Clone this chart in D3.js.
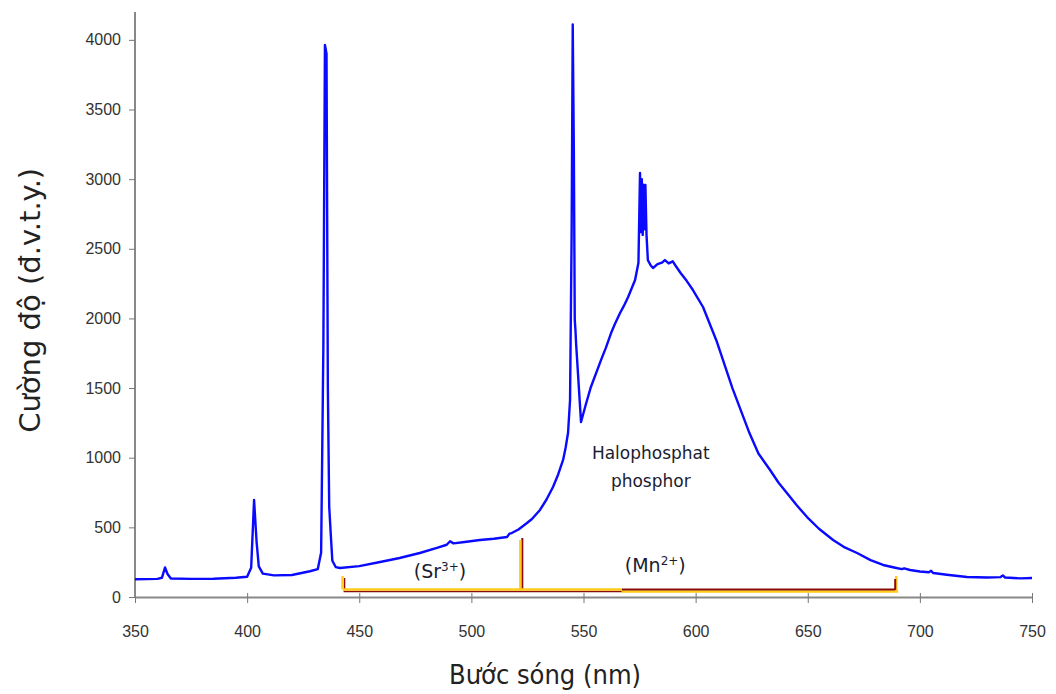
<!DOCTYPE html>
<html>
<head>
<meta charset="utf-8">
<script src="https://cdn.jsdelivr.net/npm/d3@7"></script>
<style>
  body { margin: 0; background: #fff; }
  svg { display: block; }
  .tick text { font-family: "Liberation Sans", Arial, sans-serif; font-size: 16px; fill: #333; }
</style>
</head>
<body>
<svg id="chart" width="1056" height="694"></svg>
<script>
// spectrum: wavelength (nm) and intensity (a.u.)
var wavelengths = [350, 355, 360, 362, 363.4, 364.5, 366, 375, 385, 395, 400, 401.8, 403.1, 404.2, 405.2, 407, 412, 420, 428, 431.5,
    433, 434, 434.7, 435.4, 436, 436.6, 437.3, 438, 439.5, 441.4, 450, 459.3, 468, 477, 485, 489, 490.5, 492, 497, 503.8,
    510, 515.9, 517, 518, 521, 524.8, 527, 530.6, 533.5, 536.4, 538.7, 540.9, 542, 543.1, 544, 544.7, 545.2, 545.7, 546.1, 546.4,
    546.7, 548.9, 551, 553.3, 557.8, 560, 562.3, 564, 566.3, 568, 569.9, 573, 574.5, 575.2, 575.6, 576.0, 576.4, 576.8, 577.2, 577.6,
    578.1, 578.7, 580, 581, 583, 585, 586.3, 588, 589.8, 591, 593.3, 596, 598.8, 603.3, 609.3, 616.4, 624, 628,
    633.2, 637, 640.7, 645, 649.7, 655, 661.3, 666, 672, 678, 683.6, 689, 692, 693, 695.6, 700, 704, 705, 706, 712,
    721, 730, 736, 737, 738, 745, 750];
var intensity = [127, 128, 130, 138, 212, 165, 133, 130, 131, 138, 145, 210, 696, 400, 220, 168, 155, 158, 185, 200,
    320, 1800, 3963, 3900, 1500, 650, 450, 260, 215, 208, 222, 251, 280, 316, 355, 375, 400, 385, 395, 409,
    418, 431, 455, 459, 485, 531, 560, 625, 700, 790, 880, 984, 1070, 1177, 1414, 2600, 4110, 3200, 1990, 1920,
    1820, 1256, 1380, 1508, 1701, 1790, 1895, 1960, 2039, 2090, 2154, 2276, 2400, 3044, 2620, 3000, 2600, 2960, 2640, 2958,
    2600, 2419, 2380, 2362, 2390, 2400, 2419, 2395, 2410, 2380, 2326, 2270, 2204, 2082, 1840, 1500, 1177, 1030,
    912, 820, 747, 660, 574, 490, 409, 360, 316, 265, 230, 210, 200, 206, 194, 183, 178, 188, 172, 160,
    144, 140, 143, 155, 140, 134, 136];

var xTicks = [350, 400, 450, 500, 550, 600, 650, 700, 750];
var yTicks = [0, 500, 1000, 1500, 2000, 2500, 3000, 3500, 4000];

// bands under the curve (nm): Sr start, Mn start, colour change, Mn end
var bandEdges = [443, 522.5, 567, 689];
var bandLabels = [
    { base: "Sr", sup: "3+", nm: 486, v: 140 },
    { base: "Mn", sup: "2+", nm: 582, v: 178 }
];
var phosphorLines = ["Halophosphat", "phosphor"];

var svg = d3.select('#chart');

var x = d3.scaleLinear().domain([350, 750]).range([135, 1032]);
var y = d3.scaleLinear().domain([0, 4200]).range([597, 12]);

// axes
var xAxis = d3.axisBottom(x).tickValues(xTicks).tickFormat(d3.format('d'))
    .tickSizeInner(6).tickSizeOuter(0).tickPadding(23);
var yAxis = d3.axisLeft(y).tickValues(yTicks).tickFormat(d3.format('d'))
    .tickSizeInner(6).tickSizeOuter(0).tickPadding(8);

var gx = svg.append('g')
    .attr('transform', `translate(0 ${y(0)})`)
    .call(xAxis);
gx.select('.domain').attr('stroke', '#888').attr('stroke-width', 2);
gx.selectAll('.tick line').attr('stroke', '#777').attr('y1', -4);

var gy = svg.append('g')
    .attr('transform', `translate(${x(350)} 0)`)
    .call(yAxis);
gy.select('.domain').attr('stroke', '#888').attr('stroke-width', 2)
    .attr('d', `M0,${y(4200)}V${y(0)}`);
gy.selectAll('.tick line').attr('stroke', '#777');

// band brackets
var yb = y(0) - 7;
var e = bandEdges.map(x);
var yellow = '#ffcc1a', darkRed = '#8b0a0a';
// right part: yellow shadow under a dark red line
svg.append('path')
    .attr('d', `M${e[2]},${yb + 1.5}H${e[3] + 3}M${e[3] + 1},${yb - 14}V${yb}`)
    .attr('stroke', yellow).attr('stroke-width', 2.5).attr('fill', 'none');
svg.append('path')
    .attr('d', `M${e[2]},${yb - 0.5}H${e[3]}M${e[3]},${yb - 11}V${yb}M${e[1] + 0.5},${yb - 52}V${yb}`)
    .attr('stroke', darkRed).attr('stroke-width', 2).attr('fill', 'none');
// left part: thin dark red under a yellow line
svg.append('path')
    .attr('d', `M${e[0]},${yb + 1.5}H${e[2]}M${e[0] + 1},${yb - 12}V${yb}`)
    .attr('stroke', darkRed).attr('stroke-width', 1.5).attr('fill', 'none');
svg.append('path')
    .attr('d', `M${e[0] - 1},${yb - 0.5}H${e[2]}M${e[0] - 1},${yb - 14}V${yb - 1}M${e[1] - 1.5},${yb - 50}V${yb - 1}`)
    .attr('stroke', yellow).attr('stroke-width', 2.5).attr('fill', 'none');

// spectrum
var pts = wavelengths.map((w, i) => [w, intensity[i]]);
svg.append('path')
    .datum(pts)
    .attr('d', d3.line().x(d => x(d[0])).y(d => y(d[1])))
    .attr('fill', 'none')
    .attr('stroke', '#0a0aff')
    .attr('stroke-width', 2.4)
    .attr('stroke-linejoin', 'round');

// annotations
var lab = svg.selectAll('.band-label')
    .data(bandLabels)
    .enter().append('text')
    .attr('class', 'band-label')
    .attr('x', d => x(d.nm))
    .attr('y', d => y(d.v))
    .attr('text-anchor', 'middle')
    .attr('font-family', '"DejaVu Sans", Tahoma, sans-serif')
    .attr('font-size', 19)
    .attr('fill', '#1c1c30');
lab.append('tspan').text(d => '(' + d.base);
lab.append('tspan').attr('font-size', 12).attr('dy', -7).text(d => d.sup);
lab.append('tspan').attr('dy', 7).text(')');

svg.selectAll('.phosphor')
    .data(phosphorLines)
    .enter().append('text')
    .attr('class', 'phosphor')
    .attr('x', x(580))
    .attr('y', (d, i) => y(990) + i * 28)
    .attr('text-anchor', 'middle')
    .attr('font-family', '"DejaVu Sans", Tahoma, sans-serif')
    .attr('font-size', 17)
    .attr('fill', '#1c1c30')
    .text(d => d);

// axis titles
svg.append('text')
    .attr('transform', `translate(40 ${y(2130)}) rotate(-90)`)
    .attr('text-anchor', 'middle')
    .attr('font-family', '"DejaVu Sans", Tahoma, sans-serif')
    .attr('font-size', 29)
    .attr('fill', '#222')
    .text('Cường độ (đ.v.t.y.)');

svg.append('text')
    .attr('x', 545)
    .attr('y', 684)
    .attr('text-anchor', 'middle')
    .attr('font-family', '"DejaVu Sans Condensed", "Liberation Sans Narrow", sans-serif')
    .attr('font-size', 27)
    .attr('fill', '#222')
    .text('Bước sóng (nm)');
</script>
</body>
</html>
